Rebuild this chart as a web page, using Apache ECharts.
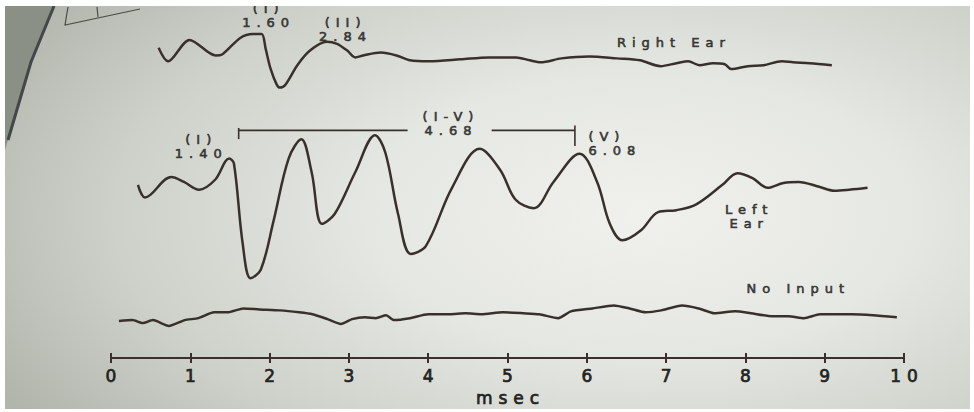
<!DOCTYPE html>
<html>
<head>
<meta charset="utf-8">
<script src="https://cdn.jsdelivr.net/npm/echarts@6/dist/echarts.min.js"></script>
<style>
  html, body { margin: 0; padding: 0; background: #fff; }
  #chart {
    width: 974px;
    height: 412px;
    background: radial-gradient(ellipse 75% 90% at 66% 52%, #f0f1ed 0%, #e5e7e2 38%, #cdd1c9 72%, #b1b5ac 100%);
    box-shadow: inset 0 6px 0 #fff, inset 5px 0 0 #fff, inset -4px 0 0 #fff, inset 0 -3px 0 #fff;
  }
  /* the printed lettering is widely spaced */
  #chart svg text { letter-spacing: 6px; }
</style>
</head>
<body>
<div id="chart"></div>
<script>
// x = latency (msec), y = vertical position of the trace on the sheet (arbitrary units, up = positive)
const rightEar = [
  [0.60, 319], [0.72, 305], [0.99, 327], [1.32, 311], [1.40, 312], [1.63, 329], [1.79, 333],
  [1.90, 333], [1.95, 318], [2.01, 298], [2.09, 281], [2.13, 278], [2.20, 281], [2.35, 301],
  [2.51, 316], [2.72, 325], [2.85, 323], [2.98, 316], [3.08, 309], [3.18, 311], [3.40, 314],
  [3.60, 311], [3.77, 306], [4.01, 305], [4.41, 307], [4.76, 309], [5.11, 309], [5.28, 306],
  [5.42, 304], [5.68, 308], [6.03, 310], [6.38, 308], [6.67, 306], [6.93, 300], [7.13, 303],
  [7.28, 305], [7.42, 301], [7.59, 303], [7.74, 302], [7.82, 297], [8.03, 300], [8.23, 301],
  [8.46, 305], [8.60, 304], [8.81, 303], [9.09, 301]
]

const leftEar = [
  [0.34, 178], [0.43, 165], [0.76, 186], [0.92, 181], [1.11, 173], [1.31, 183], [1.49, 205],
  [1.55, 200], [1.66, 118], [1.76, 82], [1.89, 91], [2.05, 141], [2.24, 205], [2.40, 225],
  [2.53, 191], [2.66, 138], [2.82, 148], [3.08, 191], [3.33, 229], [3.46, 211], [3.62, 148],
  [3.78, 107], [3.97, 115], [4.30, 175], [4.65, 215], [4.91, 193], [5.10, 163], [5.33, 154],
  [5.58, 181], [5.91, 210], [6.13, 181], [6.29, 138], [6.45, 121], [6.68, 131], [6.90, 150],
  [7.13, 152], [7.38, 158], [7.71, 178], [7.90, 190], [8.09, 185], [8.28, 175], [8.48, 180],
  [8.67, 181], [8.93, 176], [9.12, 172], [9.31, 173], [9.54, 175]
]

const noInput = [
  [0.10, 38], [0.27, 39], [0.40, 36], [0.53, 39], [0.73, 33], [0.93, 39], [1.10, 41], [1.30, 47],
  [1.47, 47], [1.67, 51], [1.87, 50], [2.13, 49], [2.37, 47], [2.54, 45], [2.73, 40], [2.90, 35],
  [3.04, 40], [3.20, 42], [3.34, 41], [3.47, 44], [3.57, 39], [3.77, 41], [4.00, 45], [4.27, 45],
  [4.47, 46], [4.67, 45], [4.94, 47], [5.20, 46], [5.40, 45], [5.64, 41], [5.80, 48], [6.07, 51],
  [6.34, 54], [6.54, 51], [6.74, 47], [6.94, 49], [7.20, 54], [7.41, 51], [7.61, 46], [7.87, 48],
  [8.07, 46], [8.34, 43], [8.54, 43], [8.74, 41], [8.94, 45], [9.17, 45], [9.34, 45], [9.61, 44],
  [9.91, 42]
]

// I-V interpeak bracket (gap in the middle for the value)
const bracketSegments = [
  [[1.61, 225], [1.61, 236.5]],
  [[1.61, 234], [3.74, 234]],
  [[4.80, 234], [5.85, 234]],
  [[5.85, 239], [5.85, 218]]
]

// [msec, level, text, align]
const annotations = [
  [1.95, 352.5, '(I)\n1.60', 'center'],
  [2.92, 338, '(II)\n2.84', 'center'],
  [7.06, 324, 'Right Ear', 'center'],
  [4.25, 241.5, '(I-V)\n4.68', 'center'],
  [1.10, 217, '(I)\n1.40', 'center'],
  [6.02, 221, '(V)\n6.08', 'left'],
  [8.01, 145.5, 'Left\nEar', 'center'],
  [8.63, 71, 'No Input', 'center']
]

const ink = '#3a302b'
const textInk = '#232221'
const font = 'DejaVu Sans'
const spacing = 6 // matches the css letter-spacing, used to re-centre texts

const chart = echarts.init(document.getElementById('chart'), null, { renderer: 'svg' })

const traceSeries = (name, data, smooth) => ({
  name,
  type: 'line',
  data,
  smooth,
  symbol: 'none',
  lineStyle: { color: ink, width: 2.5 },
  z: 3
})

const baseAxis = {
  type: 'value',
  min: 0,
  max: 10,
  interval: 1,
  position: 'bottom',
  splitLine: { show: false },
  axisLine: { lineStyle: { color: ink, width: 2 } }
}

const textLook = {
  color: textInk,
  fontFamily: font,
  textBorderColor: textInk,
  textBorderWidth: 0.7
}

chart.setOption({
  backgroundColor: 'transparent',
  animation: false,
  grid: { left: 111, right: 70, top: 0, bottom: 44 },
  xAxis: [
    {
      ...baseAxis,
      name: 'msec',
      nameLocation: 'middle',
      nameGap: 26,
      nameTextStyle: { ...textLook, fontSize: 17, padding: [0, 0, 0, spacing] },
      axisTick: { inside: false, length: 5, lineStyle: { color: ink, width: 2 } },
      axisLabel: { ...textLook, fontSize: 17, margin: 9, padding: [0, 0, 0, spacing] }
    },
    {
      ...baseAxis,
      axisTick: { inside: true, length: 5, lineStyle: { color: ink, width: 2 } },
      axisLabel: { show: false }
    }
  ],
  yAxis: { type: 'value', min: 0, max: 368, show: false },
  series: [
    traceSeries('Right Ear', rightEar, 0.3),
    traceSeries('Left Ear', leftEar, 0.35),
    traceSeries('No Input', noInput, 0.2),
    {
      name: 'I-V',
      type: 'lines',
      coordinateSystem: 'cartesian2d',
      polyline: true,
      data: bracketSegments.map(coords => ({ coords })),
      lineStyle: { color: ink, width: 1.6, opacity: 1 },
      z: 3
    },
    {
      name: 'labels',
      type: 'scatter',
      data: annotations.map(([x, y, text, align]) => ({
        value: [x, y],
        text,
        label: { align, offset: [align === 'center' ? spacing / 2 : 0, 0] }
      })),
      symbolSize: 0,
      silent: true,
      label: {
        ...textLook,
        show: true,
        position: 'inside',
        formatter: p => p.data.text,
        fontSize: 13,
        lineHeight: 14
      },
      z: 4
    }
  ],
  graphic: [
    // page edge in the top-left corner of the photo
    {
      type: 'polygon',
      shape: { points: [[5, 6], [54, 6], [31, 62], [8, 140], [5, 150]] },
      style: { fill: '#8b9086' },
      z: 1
    },
    {
      type: 'polyline',
      shape: { points: [[54, 6], [31, 62], [8, 140]] },
      style: { stroke: '#43474a', lineWidth: 3, fill: null },
      z: 1
    },
    {
      type: 'polyline',
      shape: { points: [[68, 7], [65, 25], [140, 9]] },
      style: { stroke: '#4a4d4a', lineWidth: 1.2, fill: null },
      z: 1
    },
    {
      type: 'polyline',
      shape: { points: [[97, 7], [98, 17]] },
      style: { stroke: '#4a4d4a', lineWidth: 1.2, fill: null },
      z: 1
    },
    {
      type: 'rect',
      shape: { x: 0, y: 0, width: 974, height: 6 },
      style: { fill: '#fff' },
      z: 100
    }
  ]
})

window.addEventListener('resize', () => chart.resize())
</script>
</body>
</html>
